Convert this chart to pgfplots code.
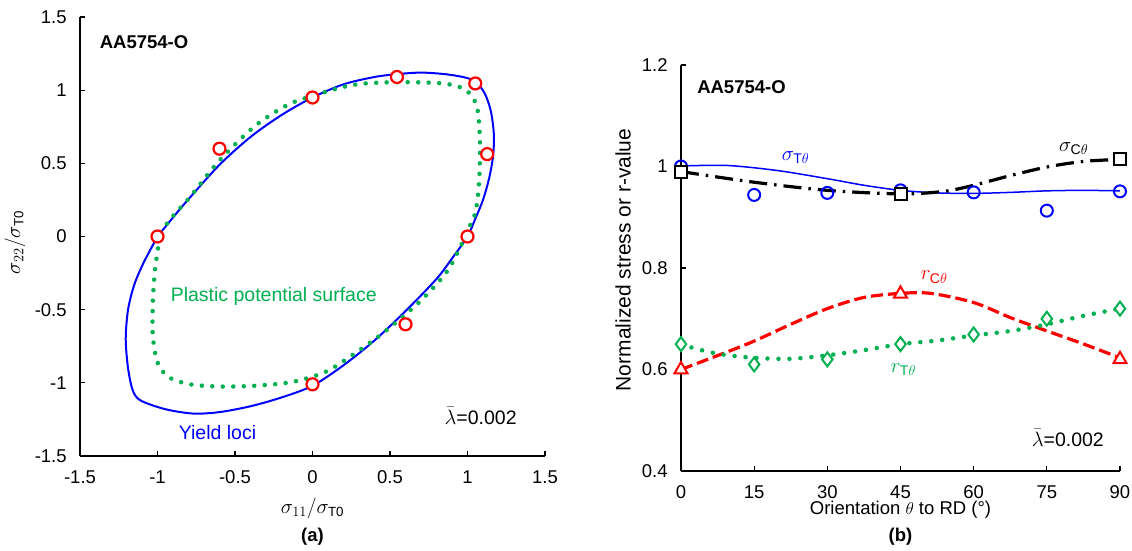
\documentclass[border=0pt]{standalone}
\usepackage{fontspec}
\setmainfont{Liberation Sans}
\usepackage{pgfplots}
\pgfplotsset{compat=1.18}
\definecolor{xblue}{HTML}{0000FF}
\definecolor{xred}{HTML}{FF0000}
\definecolor{xgreen}{HTML}{00B050}

\pgfplotsset{
  panel/.style={
    scale only axis,
    axis x line=bottom, axis y line=left,
    axis line style={-, line width=1.5bp, black},
    tick align=inside,
    major tick length=5bp,
    tick style={line width=1.2bp, black},
    tick label style={font=\fontsize{18.5bp}{21bp}\selectfont},
    xticklabel style={yshift=-8bp},
    yticklabel style={xshift=-7bp},
    /pgf/number format/assume math mode=true,
    clip=false,
  },
}

\begin{document}
\fontsize{18.5bp}{21bp}\selectfont
\begin{tikzpicture}
\path[use as bounding box] (-80bp,-95bp) rectangle (1052bp,456bp);

% (a) yield loci and plastic potential
\begin{axis}[panel,
  width=465bp, height=439bp,
  xmin=-1.5, xmax=1.5, ymin=-1.5, ymax=1.5,
  xtick={-1.5,-1,-0.5,0,0.5,1,1.5},
  ytick={-1.5,-1,-0.5,0,0.5,1,1.5},
]
% yield loci
\addplot[xblue, line width=2bp, smooth, tension=0.5] coordinates {
(-1.0,0.0) (-0.9,0.13) (-0.8,0.255) (-0.6,0.49) (-0.4,0.68) (-0.2,0.83)
(0.0,0.95) (0.2,1.04) (0.4,1.09) (0.55,1.11) (0.7,1.12) (0.85,1.11)
(0.97,1.09) (1.05,1.06) (1.11,0.98) (1.15,0.86) (1.17,0.7) (1.165,0.55)
(1.14,0.4) (1.1,0.25) (1.05,0.12) (1.0,0.0) (0.9,-0.15) (0.8,-0.29)
(0.6,-0.51) (0.4,-0.71) (0.2,-0.88) (0.0,-1.02) (-0.2,-1.1) (-0.4,-1.16)
(-0.6,-1.2) (-0.77,-1.21) (-0.95,-1.18) (-1.11,-1.12) (-1.16,-1.05)
(-1.19,-0.9) (-1.205,-0.7) (-1.19,-0.5) (-1.15,-0.33) (-1.09,-0.18) (-1.0,0.0)
};
% plastic potential surface
\addplot[xgreen, line width=4.5bp, line cap=round, dash pattern=on 0bp off 10.5bp, smooth, tension=0.5] coordinates {
(-0.98,0.03) (-0.9,0.14) (-0.79,0.27) (-0.6,0.52) (-0.37,0.756) (-0.16,0.9)
(0.0,0.96) (0.19,1.02) (0.33,1.045) (0.57,1.055) (0.85,1.045) (0.99,1.0)
(1.06,0.89) (1.08,0.665) (1.075,0.37) (1.05,0.16) (1.0,0.04) (0.95,-0.08)
(0.86,-0.25) (0.685,-0.452) (0.43,-0.68) (0.17,-0.873) (0.05,-0.94)
(-0.136,-0.995) (-0.37,-1.02) (-0.6,-1.025) (-0.79,-1.01) (-0.93,-0.96)
(-1.0,-0.86) (-1.03,-0.68) (-1.03,-0.45) (-1.016,-0.225) (-0.98,0.03)
};
% experimental points
\addplot[only marks, mark=*, mark size=6bp, mark options={draw=xred, fill=white, line width=2.2bp}] coordinates {
(-1,0) (-0.6,0.6) (0,0.95) (0.545,1.09) (1.05,1.046) (1.127,0.563) (1,0) (0.6,-0.6) (0,-1.01)
};
\node[font=\bfseries] at (axis cs:-1.087,1.326) {AA5754-O};
\node[text=xgreen, font=\fontsize{19.5bp}{22bp}\selectfont] at (axis cs:-0.25,-0.41) {Plastic potential surface};
\node[text=xblue, font=\fontsize{19.5bp}{22bp}\selectfont] at (axis cs:-0.613,-1.34) {Yield loci};
\node[font=\fontsize{19.5bp}{22bp}\selectfont] at (axis cs:1.085,-1.225) {$\bar{\lambda}$=0.002};
\node[font=\fontsize{19bp}{21bp}\selectfont, yshift=-52bp] at (rel axis cs:0.5,0) {$\sigma_{11}/\sigma_{\mathrm{T0}}$};
\node[font=\fontsize{19bp}{21bp}\selectfont, rotate=90, xshift=-6bp, yshift=65bp] at (rel axis cs:0,0.5) {$\sigma_{22}/\sigma_{\mathrm{T0}}$};
\node[font=\bfseries, yshift=-81bp] at (rel axis cs:0.5,0) {(a)};
\end{axis}

% (b) directional properties
\begin{axis}[panel, at={(601bp,-15bp)}, anchor=south west,
  width=439bp, height=406bp,
  xmin=0, xmax=90, ymin=0.4, ymax=1.2,
  xtick={0,15,30,45,60,75,90},
  ytick={0.4,0.6,0.8,1,1.2},
]
% sigma_T fit
\addplot[xblue, line width=1.5bp, smooth] coordinates {
(0,1.001) (9.5,1.002) (19.8,0.992) (30,0.976) (37.5,0.963) (45,0.953)
(52.5,0.948) (60,0.947) (67.5,0.949) (75,0.952) (82.5,0.953) (90,0.952)
};
% sigma_C fit
\addplot[black, line width=3.2bp, dash pattern=on 18bp off 7bp on 2.5bp off 7bp, smooth] coordinates {
(0,0.99) (15,0.969) (30,0.953) (45,0.946) (53.9,0.951) (60,0.963)
(67.5,0.982) (75,0.999) (82.5,1.01) (90,1.014)
};
% r_C fit
\addplot[xred, line width=3.2bp, dash pattern=on 12bp off 5bp, smooth] coordinates {
(0,0.6) (8.2,0.63) (15,0.656) (22.5,0.689) (30,0.72) (37.5,0.742) (45,0.75)
(51.2,0.75) (60,0.732) (67.6,0.702) (75,0.676) (82.6,0.65) (90,0.623)
};
% r_T fit
\addplot[xgreen, line width=4.5bp, line cap=round, dash pattern=on 0bp off 11bp, smooth] coordinates {
(0,0.65) (3.4,0.64) (8.2,0.63) (15,0.623) (22.5,0.621) (30,0.628) (37.5,0.638)
(45,0.65) (52.5,0.657) (60,0.667) (67.6,0.676) (75,0.689) (82.6,0.706) (90,0.72)
};
% experimental points
\addplot[only marks, mark=o, mark size=6bp, mark options={draw=xblue, line width=2bp}] coordinates {
(0,1.0) (15,0.944) (30,0.948) (45,0.953) (60,0.949) (75,0.913) (90,0.951)
};
\addplot[only marks, mark=square*, mark size=6bp, mark options={draw=black, fill=white, line width=2bp}] coordinates {
(0,0.99) (45,0.946) (90,1.014)
};
\addplot[only marks, mark=triangle*, mark size=7.5bp, mark options={draw=xred, fill=white, line width=2bp}] coordinates {
(0,0.6) (45,0.749) (90,0.62)
};
\addplot[only marks, mark=diamond*, mark size=7bp, mark options={draw=xgreen, fill=white, line width=2bp}] coordinates {
(0,0.65) (15,0.61) (30,0.62) (45,0.65) (60,0.669) (75,0.70) (90,0.72)
};
\node[font=\bfseries] at (axis cs:12.4,1.156) {AA5754-O};
\node[text=xblue, font=\fontsize{20bp}{22bp}\selectfont] at (axis cs:23.5,1.018) {$\sigma_{\mathrm{T}\theta}$};
\node[text=black, font=\fontsize{20bp}{22bp}\selectfont] at (axis cs:80.5,1.035) {$\sigma_{\mathrm{C}\theta}$};
\node[text=xred, font=\fontsize{20bp}{22bp}\selectfont] at (axis cs:51.9,0.782) {$r_{\mathrm{C}\theta}$};
\node[text=xgreen, font=\fontsize{20bp}{22bp}\selectfont] at (axis cs:45.6,0.6) {$r_{\mathrm{T}\theta}$};
\node[font=\fontsize{19.5bp}{22bp}\selectfont] at (axis cs:79.3,0.465) {$\bar{\lambda}$=0.002};
\node[yshift=-39bp] at (rel axis cs:0.5,0) {Orientation $\theta$ to RD (°)};
\node[rotate=90, font=\fontsize{21bp}{24bp}\selectfont, xshift=8bp, yshift=58bp] at (rel axis cs:0,0.5) {Normalized stress or r-value};
\node[font=\bfseries, yshift=-66bp] at (rel axis cs:0.5,0) {(b)};
\end{axis}
\end{tikzpicture}
\end{document}
